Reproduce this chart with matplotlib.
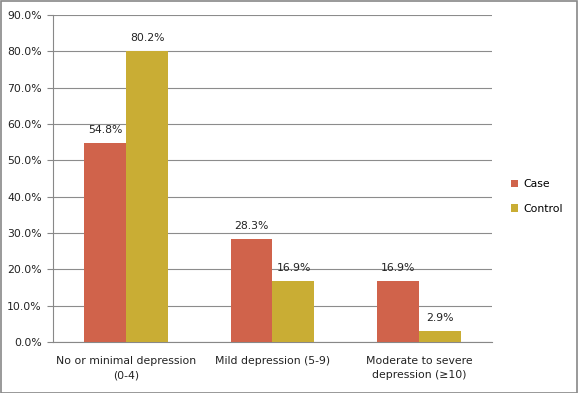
import matplotlib
matplotlib.use("Agg")
import matplotlib.pyplot as plt
import numpy as np
from matplotlib.patches import Rectangle

categories = ["No or minimal depression\n(0-4)", "Mild depression (5-9)", "Moderate to severe\ndepression (\u226510)"]
case = [54.8, 28.3, 16.9]
control = [80.2, 16.9, 2.9]
series_names = ["Case", "Control"]
colors = ["#D0634B", "#C9AD34"]

plt.rcParams['font.family'] = ['DejaVu Sans']
fig = plt.figure(figsize=(5.78, 3.93), dpi=100)
ax = fig.add_axes([0.0917, 0.1298, 0.7595, 0.832])

x = np.arange(len(categories))
w = 0.287
b1 = ax.bar(x - w/2, case, w, color=colors[0], label=series_names[0], zorder=3)
b2 = ax.bar(x + w/2, control, w, color=colors[1], label=series_names[1], zorder=3)
for bars, vals in ((b1, case), (b2, control)):
    for r, v in zip(bars, vals):
        ax.text(r.get_x() + r.get_width()/2, v + 2.2, f"{v:.1f}%", ha="center", va="bottom", fontsize=7.8, color="#222222")

ax.set_xlim(-0.5, 2.5)
ax.set_ylim(0, 90)
ax.set_yticks(np.arange(0, 91, 10))
ax.set_yticklabels([f"{t:.1f}%" for t in np.arange(0, 91, 10)], fontsize=7.8, color="#222222")
ax.set_xticks(x)
ax.set_xticklabels(categories, fontsize=7.8, color="#222222", linespacing=1.55)
ax.tick_params(axis='x', length=0, pad=10)
ax.tick_params(axis='y', length=4, color="#888888", pad=4)
ax.grid(axis='y', color="#8c8c8c", linewidth=0.8, zorder=0)
for s in ["top", "right"]:
    ax.spines[s].set_visible(False)
ax.spines["left"].set_color("#888888")
ax.spines["bottom"].set_color("#888888")

leg = ax.legend(loc="center left", bbox_to_anchor=(1.02, 0.445), frameon=False, fontsize=7.8,
                handlelength=0.7, handleheight=0.7, labelspacing=1.35, handletextpad=0.5)

fig.patches.append(Rectangle((0.001, 0.001), 0.997, 0.997, transform=fig.transFigure,
                             fill=False, edgecolor="#888888", linewidth=1.2))
fig.savefig("out.png", dpi=100)
